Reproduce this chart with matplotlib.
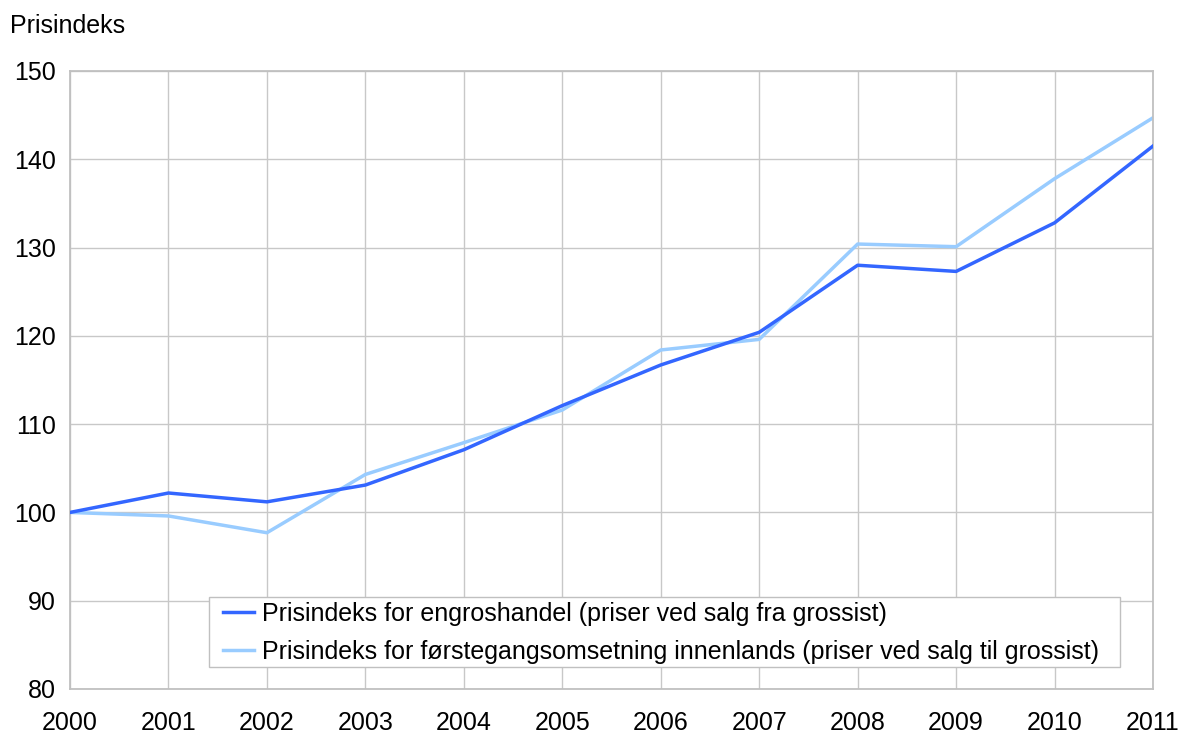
import matplotlib
matplotlib.use("Agg")
import matplotlib.pyplot as plt
from matplotlib.patches import Rectangle

years = [2000, 2001, 2002, 2003, 2004, 2005, 2006, 2007, 2008, 2009, 2010, 2011]
engros = [100.0, 102.2, 101.2, 103.1, 107.1, 112.1, 116.7, 120.4, 128.0, 127.3, 132.8, 141.5]
forstegang = [100.0, 99.6, 97.7, 104.3, 107.9, 111.6, 118.4, 119.6, 130.4, 130.1, 137.8, 144.7]
series_labels = [
    "Prisindeks for engroshandel (priser ved salg fra grossist)",
    "Prisindeks for førstegangsomsetning innenlands (priser ved salg til grossist)",
]
y_ticks = [80, 90, 100, 110, 120, 130, 140, 150]

plt.rcParams['font.family'] = ['Liberation Sans', 'DejaVu Sans']
FS = 18

W, H = 1186, 736
fig = plt.figure(figsize=(W / 100, H / 100), dpi=100)
left, right, top, bottom = 70, 1153, 71, 689
ax = fig.add_axes([left / W, 1 - bottom / H, (right - left) / W, (bottom - top) / H])

ax.plot(years, engros, color='#3366FF', lw=2.5, label=series_labels[0], zorder=3)
ax.plot(years, forstegang, color='#99CCFF', lw=2.5, label=series_labels[1], zorder=2)

ax.set_xlim(2000, 2011)
ax.set_ylim(80, 150)
ax.set_xticks(years)
ax.set_xticklabels([str(y) for y in years], fontsize=FS)
ax.set_yticks(y_ticks)
ax.set_yticklabels([str(v) for v in y_ticks], fontsize=FS)
ax.tick_params(axis='y', length=0, pad=10)
ax.tick_params(axis='x', length=0, pad=16)
ax.grid(True, color='#C8C8C8', lw=1)
ax.set_axisbelow(True)
for s in ax.spines.values():
    s.set_color('#C0C0C0')
    s.set_linewidth(1.3)

fig.text(10 / W, 1 - 26 / H, "Prisindeks", fontsize=FS, ha='left', va='center')

# legend frame
frame = Rectangle((209 / W, 1 - 667 / H), (1120 - 209) / W, (667 - 597) / H,
                  transform=fig.transFigure, facecolor='white', edgecolor='#C0C0C0',
                  lw=1, zorder=4, clip_on=False)
ax.add_artist(frame)

leg = ax.legend(loc='upper left', bbox_to_anchor=(223 / W, 1 - 602 / H),
                bbox_transform=fig.transFigure, fontsize=FS, frameon=False,
                handlelength=1.25, handletextpad=0.33,
                borderpad=0, labelspacing=0.56, borderaxespad=0)
leg.set_zorder(5)

fig.savefig("out.png", dpi=100)
